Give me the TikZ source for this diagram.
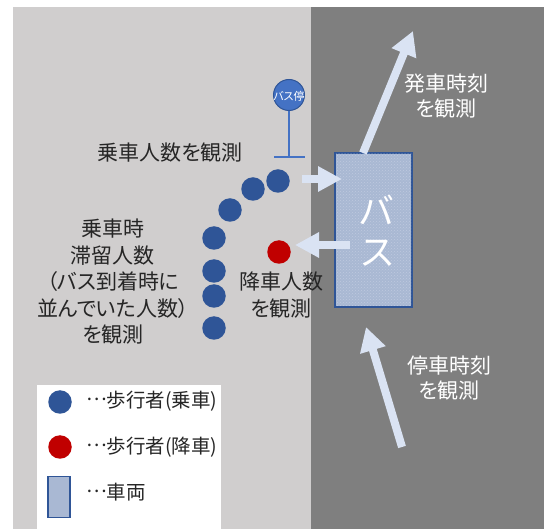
\documentclass[tikz,border=0pt]{standalone}
\usepackage{fontspec}
\setmainfont[RawFeature=+palt]{Noto Sans CJK JP}
\usetikzlibrary{arrows.meta,patterns}
\definecolor{roadgray}{HTML}{7F7F7F}
\definecolor{walkgray}{HTML}{D0CECE}
\definecolor{pedblue}{HTML}{2F5597}
\definecolor{pedred}{HTML}{C00000}
\definecolor{busfill}{HTML}{A9B8D3}
\definecolor{arrowblue}{HTML}{DAE3F3}
\definecolor{stopblue}{HTML}{4472C4}
\definecolor{labelgray}{HTML}{262626}
\newcommand{\middots}{\raisebox{0.36em}{…}}
\begin{document}
\begin{tikzpicture}[x=1pt,y=-1pt,
  ped/.style={circle,fill=pedblue,inner sep=0,minimum size=23.5pt},
  alight/.style={circle,fill=pedred,inner sep=0,minimum size=23.5pt},
  flowsmall/.style={draw=arrowblue,line width=8pt,-{Triangle[width=24pt,length=24pt]}},
  flowbig/.style={draw=arrowblue,line width=8pt,-{Triangle[width=25pt,length=24pt]}},
  lab/.style={text=labelgray,font=\fontsize{21}{26.5}\selectfont,align=center,inner sep=0},
  whitelab/.style={text=white,font=\fontsize{21}{25.5}\selectfont,align=center,inner sep=0},
  legendlab/.style={text=labelgray,font=\fontsize{19.5}{22}\selectfont,anchor=west,inner sep=0}]
\useasboundingbox (0,0) rectangle (547,529);
\fill[walkgray] (13,7) rectangle (311,529);
\fill[roadgray] (311,7) rectangle (544,529);
\fill[white] (37,385) rectangle (221,529);
% bus
\draw[draw=pedblue,line width=1.5pt,fill=busfill] (335,153) rectangle (412,307);
\fill[pattern=crosshatch dots,pattern color=white!25!busfill] (336,154) rectangle (411,306);
\node[text=white,font=\fontsize{36}{41}\selectfont,align=center,inner sep=0] (bus) at (377,231) {バ\\ス};
% bus stop
\node[circle,draw=pedblue,line width=1pt,fill=stopblue,inner sep=0,minimum size=31pt] (stop) at (289,95) {};
\node[text=white,font=\fontsize{11}{12}\selectfont,inner sep=0] (stopname) at (289,96) {バス停};
\coordinate (stopfoot) at (289,157);
\coordinate (footleft) at (274,157);
\coordinate (footright) at (305,157);
\draw[stopblue,line width=1.5pt] (stop) -- (stopfoot);
\draw[stopblue,line width=1.5pt] (footleft) -- (footright);
% pedestrians
\foreach \n/\x/\y in {a/278/181,b/253/189,c/230/210,d/214/238,e/214/271,f/214/296,g/214/328}
  \node[ped] (\n) at (\x,\y) {};
\node[alight] (red) at (279,252) {};
% arrows
\coordinate (boardfrom) at (302,179);
\coordinate (boardto) at (342,179);
\coordinate (alightfrom) at (350,245);
\coordinate (alightto) at (295,245);
\coordinate (leavefrom) at (363,153);
\coordinate (leaveto) at (413,31);
\coordinate (arrivefrom) at (402,447);
\coordinate (arriveto) at (366,327);
\draw[flowsmall] (boardfrom) -- (boardto);
\draw[flowsmall] (alightfrom) -- (alightto);
\draw[flowbig] (leavefrom) -- (leaveto);
\draw[flowbig] (arrivefrom) -- (arriveto);
% labels
\node[whitelab] (leavelab) at (446,96) {発車時刻\\を観測};
\node[whitelab] (arrivelab) at (449,378) {停車時刻\\を観測};
\node[lab] (boardlab) at (170,153) {乗車人数を観測};
\node[lab] (queuelab) at (113,282) {乗車時\\滞留人数\\（バス到着時に\\並んでいた人数）\\を観測};
\node[lab] (alightlab) at (281,295) {降車人数\\を観測};
% legend
\node[ped] (keyboard) at (60,402) {};
\node[alight] (keyalight) at (60,447) {};
\node[draw=pedblue,line width=1.5pt,fill=busfill,inner sep=0,minimum width=22pt,minimum height=41pt] (keybus) at (59,497) {};
\node[legendlab] (keyboardlab) at (86,401) {\middots 歩行者(乗車)};
\node[legendlab] (keyalightlab) at (86,447) {\middots 歩行者(降車)};
\node[legendlab] (keybuslab) at (86,492) {\middots 車両};
\end{tikzpicture}
\end{document}
